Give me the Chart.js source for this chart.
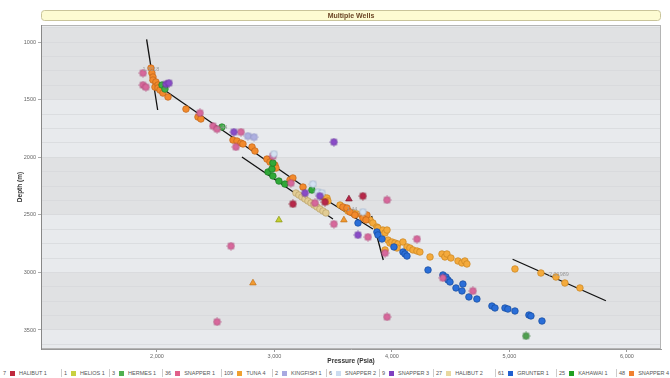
<!DOCTYPE html>
<html>
<head>
<meta charset="utf-8">
<script src="https://cdn.jsdelivr.net/npm/chart.js@4.4.1/dist/chart.umd.min.js"></script>
<style>
  body { margin: 0; background: #fff; font-family: 'Liberation Sans', Arial, sans-serif; overflow: hidden; }
  #wrap { position: relative; width: 670px; height: 366px; }
  #legend { position: absolute; top: 369px; left: 0; width: 670px; height: 9px; overflow: hidden; font-size: 5.5px; color: #555; line-height: 8px; }
  #legend .item { position: absolute; top: 0; white-space: nowrap; }
  #legend .sep { position: absolute; top: 0; width: 1px; height: 8px; background: #ccc; }
  #legend .box { display: inline-block; width: 5px; height: 5px; margin: 0 4px 0 4px; vertical-align: -0.5px; }
</style>
</head>
<body>
<div id="wrap"><canvas id="wellChart" width="670" height="366"></canvas></div>
<div id="legend"></div>
<script>
// axis ticks
const xTicks = [2000, 3000, 4000, 5000, 6000];
const yTickLabels = [1000, 1500, 2000, 2500, 3000, 3500];

// legend (count + well name)
const legendNames = ['HALIBUT 1', 'HELIOS 1', 'HERMES 1', 'SNAPPER 1', 'TUNA 4', 'KINGFISH 1', 'SNAPPER 2', 'SNAPPER 3', 'HALIBUT 2', 'GRUNTER 1', 'KAHAWAI 1', 'SNAPPER 4'];
const legendCounts = [7, 1, 3, 36, 109, 2, 6, 9, 27, 61, 25, 48];

// pressure (psia), depth (m)
const snapper4 = [[1949,1226],[1957,1269],[1966,1304],[1966,1330],[1991,1347],[1983,1391],[2009,1373],[2009,1399],[2026,1417],[2051,1443],[2094,1477],[2247,1582],[2349,1651],[2374,1668],[2647,1851],[2681,1859],[2715,1877],[2732,1885],[2809,1911],[2834,1946],[2936,2016],[2962,2042],[3004,2068],[3013,2094],[3132,2198],[3157,2180],[3243,2259],[3583,2432],[3617,2441],[3643,2476],[3685,2502],[3745,2502],[3770,2502],[3787,2502],[3753,2528],[3779,2545]];
const snapper4Tri = [[3591,2545],[2817,3092]];
const tuna4 = [[3413,2345],[3447,2354],[3455,2380],[3558,2415],[3600,2441],[3626,2467],[3668,2484],[3702,2493],[3813,2545],[3838,2571],[3872,2606],[3881,2614],[3923,2632],[3941,2658],[3958,2632],[3941,2805],[3966,2719],[3983,2745],[4000,2736],[4026,2745],[4051,2753],[4043,2788],[4094,2736],[4128,2779],[4153,2788],[4179,2805],[4213,2814],[4238,2823],[4324,2866],[4426,2840],[4451,2866],[4468,2840],[4502,2875],[4562,2901],[4596,2918],[4621,2901],[4638,2927],[5047,2970],[5268,3005],[5396,3040],[5472,3092],[5600,3135]];
const grunter1 = [[3711,2571],[3872,2649],[3881,2675],[3915,2710],[4017,2779],[4094,2823],[4111,2840],[4128,2858],[4307,2979],[4434,3022],[4460,3040],[4477,3066],[4494,3083],[4545,3135],[4596,3161],[4604,3101],[4655,3213],[4723,3231],[4851,3292],[4877,3309],[4962,3309],[4987,3318],[5047,3335],[5166,3370],[5183,3378],[5277,3422]];
const snapper1 = [[1881,1269],[1881,1373],[1906,1391],[2366,1616],[2477,1729],[2511,1755],[2715,1781],[2672,1911],[2987,1990],[3140,2224],[3345,2397],[3506,2580],[3796,2693],[3941,2832],[4213,2710],[4434,3048],[4689,3161],[3958,3387],[2511,3430],[2630,2771],[3958,2371]];
const halibut1 = [[3157,2406],[3430,2389],[3753,2337]];
const halibut1Tri = [[3634,2363]];
const helios1Tri = [[3038,2545]];
const hermes1 = [[2043,1373],[2068,1408],[2553,1738]];
const kahawai1 = [[2945,2128],[2979,2102],[2987,2163],[3038,2207],[3089,2233],[3319,2285],[2987,2050]];
const kahawai1Star = [[5141,3552]];
const kingfish1 = [[2774,1816],[2826,1825]];
const snapper2 = [[2996,1972],[3328,2233],[3370,2302],[3404,2311],[3753,2476]];
const snapper3 = [[2077,1365],[2102,1356],[2655,1781],[3260,2311],[3506,1868],[3711,2675],[3387,2337]];
const halibut2 = [[3183,2311],[3208,2328],[3234,2345],[3260,2363],[3285,2380],[3311,2397],[3336,2415],[3362,2432],[3387,2450],[3413,2467],[3438,2484]];

// gradient lines: [start, end]
const trendLines = [
  [[1912, 977], [2006, 1590]],
  [[1940, 1330], [3243, 2250]],
  [[2723, 1998], [3498, 2536]],
  [[3455, 2380], [3838, 2623]],
  [[3827, 2510], [3926, 2892]],
  [[5027, 2886], [5821, 3246]]
];
const trendLabels = ['1.3018', '1.44', '1.44', '2.01989'];
const trendLabelPos = [[1949, 1234], [2553, 1738], [3660, 2458], [5421, 3014]];

const legendColors = {
  'HALIBUT 1': '#c0283c', 'HELIOS 1': '#c8d040', 'HERMES 1': '#50b050', 'SNAPPER 1': '#e0608a',
  'TUNA 4': '#f0a030', 'KINGFISH 1': '#a8a8e0', 'SNAPPER 2': '#cbdcf0', 'SNAPPER 3': '#8040c0',
  'HALIBUT 2': '#e8d8a0', 'GRUNTER 1': '#2060d0', 'KAHAWAI 1': '#20a020', 'SNAPPER 4': '#f08030'
};
// left edge of each legend cell (px)
const legendLeft = [3, 64, 112, 165, 224, 275, 329, 382, 436, 498, 559, 619];

// flower shaped marker
function flower(fill, stroke) {
  const c = document.createElement('canvas');
  c.width = c.height = 9;
  const g = c.getContext('2d');
  g.beginPath();
  for (let i = 0; i < 16; i++) {
    const r = i % 2 ? 2.9 : 3.9;
    const a = i * Math.PI / 8;
    g.lineTo(4.5 + r * Math.cos(a), 4.5 + r * Math.sin(a));
  }
  g.closePath();
  g.fillStyle = fill;
  g.fill();
  g.strokeStyle = stroke;
  g.lineWidth = 0.6;
  g.stroke();
  return c;
}

const toXY = arr => arr.map(([x, y]) => ({ x, y }));

function pts(label, data, fill, stroke, style) {
  return {
    label, data: toXY(data), order: 0,
    backgroundColor: fill, borderColor: stroke, borderWidth: 0.7,
    pointRadius: style === 'triangle' ? 3.8 : 3.3,
    pointStyle: style === 'flower' ? flower(fill, stroke) : style
  };
}

const datasets = [
  pts('HALIBUT 1', halibut1, '#b8284a', '#7a1428', 'flower'),
  pts('HALIBUT 1', halibut1Tri, '#b8284a', '#7a1428', 'triangle'),
  pts('HELIOS 1', helios1Tri, '#c4d030', '#8a9410', 'triangle'),
  pts('SNAPPER 3', snapper3, '#8a4cc8', '#5a2a90', 'flower'),
  pts('KINGFISH 1', kingfish1, '#aeb0e0', '#7c80b8', 'flower'),
  pts('SNAPPER 2', snapper2, '#d4e2f2', '#8ea4c0', 'flower'),
  pts('SNAPPER 1', snapper1, '#d8689c', '#a03c6c', 'flower'),
  pts('HERMES 1', hermes1, '#40b048', '#22802a', 'circle'),
  pts('KAHAWAI 1', kahawai1, '#30a838', '#1a7a22', 'circle'),
  pts('KAHAWAI 1', kahawai1Star, '#50a050', '#307030', 'flower'),
  pts('GRUNTER 1', grunter1, '#2a6ed8', '#164a9c', 'circle'),
  pts('HALIBUT 2', halibut2, '#e2cc94', '#b8a068', 'circle'),
  pts('SNAPPER 4', snapper4, '#f28a2c', '#c0641a', 'circle'),
  pts('SNAPPER 4', snapper4Tri, '#f29a30', '#c0701a', 'triangle'),
  pts('TUNA 4', tuna4, '#f4aa3c', '#c88420', 'circle')
];
trendLines.forEach((seg, i) => datasets.push({
  type: 'line', label: 'trend ' + i, data: toXY(seg), order: 5,
  borderColor: '#111', borderWidth: 1.3, pointRadius: 0, fill: false
}));

const backdrop = {
  id: 'backdrop',
  beforeDraw(chart) {
    const { ctx, chartArea: a, scales: { y } } = chart;
    ctx.save();
    // title box
    ctx.fillStyle = '#fdfbd2';
    ctx.strokeStyle = '#c9c49a';
    ctx.lineWidth = 1;
    ctx.beginPath();
    ctx.roundRect(a.left + 0.5, 10.5, a.right - a.left - 1, 10, 3);
    ctx.fill();
    ctx.stroke();
    ctx.fillStyle = '#6b4525';
    ctx.font = "bold 7px 'Liberation Sans', Arial, sans-serif";
    ctx.textAlign = 'center';
    ctx.textBaseline = 'middle';
    ctx.fillText('Multiple Wells', (a.left + a.right) / 2, 15.8);
    // plot area with bands
    ctx.fillStyle = '#e8eaed';
    ctx.fillRect(a.left, a.top, a.right - a.left, a.bottom - a.top);
    ctx.fillStyle = '#e0e1e3';
    [[875, 1500], [2000, 2500], [3000, 3500]].forEach(([from, to]) => {
      const t = y.getPixelForValue(from), b = y.getPixelForValue(to);
      ctx.fillRect(a.left, t, a.right - a.left, b - t);
    });
    ctx.restore();
  },
  afterDatasetsDraw(chart) {
    const { ctx, scales: { x, y } } = chart;
    ctx.save();
    ctx.fillStyle = '#9a9a9a';
    ctx.font = "5.5px 'Liberation Sans', Arial, sans-serif";
    ctx.textAlign = 'center';
    ctx.textBaseline = 'middle';
    trendLabels.forEach((t, i) => {
      ctx.fillText(t, x.getPixelForValue(trendLabelPos[i][0]), y.getPixelForValue(trendLabelPos[i][1]));
    });
    ctx.restore();
  },
  afterDraw(chart) {
    const { ctx, chartArea: a } = chart;
    ctx.save();
    ctx.strokeStyle = '#b4b4b4';
    ctx.lineWidth = 1;
    ctx.strokeRect(a.left + 0.5, a.top + 0.5, a.right - a.left - 1, a.bottom - a.top - 1);
    ctx.strokeStyle = '#888';
    ctx.beginPath();
    ctx.moveTo(a.left + 0.5, a.top);
    ctx.lineTo(a.left + 0.5, a.bottom);
    ctx.stroke();
    ctx.restore();
  }
};

const yGrid = [];
for (let v = 875; v <= 3625; v += 125) yGrid.push(v);

new Chart(document.getElementById('wellChart'), {
  type: 'scatter',
  data: { datasets },
  options: {
    responsive: false,
    animation: false,
    layout: { padding: { top: 25, right: 9, bottom: 0, left: 0 } },
    plugins: { legend: { display: false }, tooltip: { enabled: false } },
    scales: {
      x: {
        type: 'linear', min: 1013, max: 6290,
        afterBuildTicks: s => { s.ticks = xTicks.map(v => ({ value: v })); },
        afterFit: s => { s.height = 17; },
        grid: { drawOnChartArea: false, tickLength: 3, tickColor: '#999' },
        border: { color: '#999' },
        ticks: {
          padding: 1, color: '#666', font: { size: 5.5 },
          callback: v => v.toLocaleString('en-US')
        },
        title: {
          display: true, text: 'Pressure (Psia)', color: '#333',
          font: { size: 6.5, weight: 'bold' }, padding: { top: 0, bottom: 1 }
        }
      },
      y: {
        type: 'linear', reverse: true, min: 852, max: 3665,
        afterBuildTicks: s => { s.ticks = yGrid.map(v => ({ value: v })); },
        afterFit: s => { s.width = 41; },
        grid: {
          color: '#d5d7da', lineWidth: 0.7, tickLength: 3,
          tickColor: c => yTickLabels.includes(c.tick && c.tick.value) ? '#888' : 'rgba(0,0,0,0)'
        },
        border: { color: '#888' },
        ticks: {
          padding: 2, color: '#666', font: { size: 5.5 }, autoSkip: false,
          callback: v => yTickLabels.includes(v) ? String(v) : ''
        },
        title: {
          display: true, text: 'Depth (m)', color: '#333',
          font: { size: 6.5, weight: 'bold' }, padding: { top: 16, bottom: 0 }
        }
      }
    }
  },
  plugins: [backdrop]
});

// legend row
const legend = document.getElementById('legend');
legendNames.forEach((name, i) => {
  const item = document.createElement('span');
  item.className = 'item';
  item.style.left = legendLeft[i] + 'px';
  item.innerHTML = legendCounts[i] + '<span class="box" style="background:' + legendColors[name] + '"></span>' + name;
  legend.appendChild(item);
  if (i > 0) {
    const sep = document.createElement('span');
    sep.className = 'sep';
    sep.style.left = (legendLeft[i] - 3) + 'px';
    legend.appendChild(sep);
  }
});
</script>
</body>
</html>
